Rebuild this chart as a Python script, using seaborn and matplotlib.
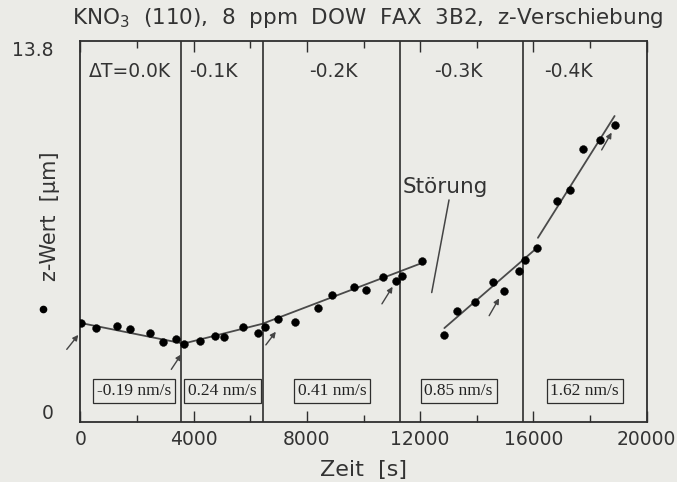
import matplotlib
matplotlib.use("Agg")
import matplotlib.pyplot as plt
import seaborn as sns
import pandas as pd

# ---------------- data ----------------
time_s = [25, 541, 1279, 1772, 2450, 2917, 3388, 3645,
          4243, 4745, 5086, 5743, 6281, 6527,
          6984, 7582, 8401, 8893, 9655, 10088, 10685, 11132, 11353, 12081,
          12844, 13301, 13933, 14576, 14963, 15480, 15712, 16130,
          16837, 17273, 17740, 18348, 18875]
z_um = [3.40, 3.21, 3.26, 3.16, 3.00, 2.66, 2.76, 2.59,
        2.69, 2.88, 2.84, 3.24, 3.02, 3.23,
        3.53, 3.42, 3.97, 4.46, 4.76, 4.65, 5.13, 4.99, 5.17, 5.73,
        2.92, 3.85, 4.18, 4.93, 4.61, 5.36, 5.78, 6.22,
        8.02, 8.43, 10.01, 10.35, 10.90]

# fitted straight lines (piecewise)
fitA_t = [25, 3645, 6422, 12081]
fitA_z = [3.38, 2.60, 3.35, 5.67]
fitB_t = [12855, 16158]
fitB_z = [3.19, 6.27]
fitC_t = [16158, 18865]
fitC_z = [6.62, 11.25]

# boundaries between undercooling steps
boundaries = [3564, 6457, 11273, 15631]
dT_labels = ["\u0394T=0.0K", "-0.1K", "-0.2K", "-0.3K", "-0.4K"]
dT_x = [1747, 4700, 8950, 13345, 17250]
rate_labels = ["-0.19 nm/s", "0.24 nm/s", "0.41 nm/s", "0.85 nm/s", "1.62 nm/s"]
rate_x = [1891, 5020, 8882, 13360, 17811]

# arrows marking the step changes (tail -> head)
arrow_tail_t = [-478, 3213, 6552, 10650, 14436, 18408]
arrow_tail_z = [2.38, 1.62, 2.55, 4.11, 3.66, 9.96]
arrow_head_t = [-70, 3564, 6903, 11026, 14788, 18760]
arrow_head_z = [2.93, 2.19, 3.05, 4.76, 4.32, 10.62]

stray_t = [-1322]
stray_z = [3.92]

x_ticks_major = [0, 4000, 8000, 12000, 16000, 20000]
x_ticks_minor = [2000, 6000, 10000, 14000, 18000]
y_ticks = [0, 13.8]
y_ticklabels = ["0", "13.8"]

# ---------------- styling ----------------
sns.set_style("white")
plt.rcParams["font.family"] = ["DejaVu Sans"]
plt.rcParams["mathtext.default"] = "regular"
bg = "#ebebe7"
ink = "#2e2e2e"
txt = "#333333"

fig = plt.figure(figsize=(6.77, 4.82), dpi=100, facecolor=bg)
ax = fig.add_axes([0.1186, 0.1245, 0.8367, 0.7904])
ax.set_facecolor(bg)

points = pd.DataFrame({"t": time_s, "z": z_um})
for ft, fz in [(fitA_t, fitA_z), (fitB_t, fitB_z), (fitC_t, fitC_z)]:
    sns.lineplot(x=ft, y=fz, ax=ax, color="#4a4a4a", lw=1.3, sort=False)
sns.scatterplot(data=points, x="t", y="z", ax=ax, color="black", s=32,
                edgecolor="black", linewidth=0.3, zorder=5)
ax.plot(stray_t, stray_z, "o", color="black", ms=4.5, clip_on=False)

for b in boundaries:
    ax.axvline(b, color=ink, lw=1.2)

ax.set_xlim(0, 19900)
ax.set_ylim(-0.38, 14.10)

for sp in ax.spines.values():
    sp.set_color(ink)
    sp.set_linewidth(1.3)

ax.set_xticks(x_ticks_major)
ax.set_xticks(x_ticks_minor, minor=True)
ax.tick_params(axis="x", which="major", direction="in", length=8, width=1,
               top=True, bottom=True, color=ink, labelsize=13.5,
               labelcolor=txt, pad=6)
ax.tick_params(axis="x", which="minor", direction="in", length=5, width=1,
               top=True, bottom=True, color=ink)
ax.set_yticks(y_ticks)
ax.set_yticklabels(y_ticklabels)
ax.tick_params(axis="y", length=0, labelsize=13.5, labelcolor=txt, pad=19)

ax.set_xlabel("Zeit  [s]", fontsize=16, color=txt, labelpad=8)
ax.set_ylabel("z-Wert  [\u00b5m]", fontsize=15, color=txt, labelpad=0)
ax.yaxis.set_label_coords(-0.035, 0.54)

fig.text(0.543, 0.962, "KNO$_3$  (110),  8  ppm  DOW  FAX  3B2,  z-Verschiebung",
         ha="center", va="center", fontsize=15.5, color=txt)

for lab, x in zip(dT_labels, dT_x):
    ax.text(x, 12.96, lab, ha="center", va="center", fontsize=13.5, color=txt)

for lab, x in zip(rate_labels, rate_x):
    ax.text(x, 0.80, lab, ha="center", va="center", fontsize=12.5,
            family="Liberation Serif", color="#222222",
            bbox=dict(boxstyle="square,pad=0.22", fc="none", ec=ink, lw=0.9))

for tx, tz, hx, hz in zip(arrow_tail_t, arrow_tail_z, arrow_head_t, arrow_head_z):
    ax.annotate("", xy=(hx, hz), xytext=(tx, tz), annotation_clip=False,
                arrowprops=dict(arrowstyle="-|>", lw=1.0, color="#444444",
                                mutation_scale=8, shrinkA=0, shrinkB=0))

ax.text(12879, 8.55, "St\u00f6rung", ha="center", va="center", fontsize=15.5,
        color=txt)
ax.plot([13019, 12408], [8.06, 4.54], color="#444444", lw=1.1)

fig.savefig("out.png", dpi=100, facecolor=bg)
